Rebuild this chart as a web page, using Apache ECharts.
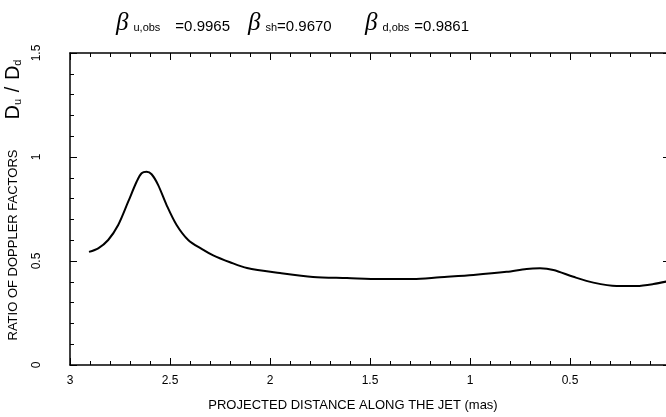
<!DOCTYPE html>
<html><head><meta charset="utf-8">
<script src="https://cdn.jsdelivr.net/npm/echarts@6/dist/echarts.min.js"></script>
<style>html,body{margin:0;padding:0;background:#fff}#c{width:666px;height:417px}</style>
</head><body><div id="c"></div>
<script>
const distance = [2.905,2.859,2.809,2.759,2.709,2.667,2.642,2.617,2.592,2.559,2.517,2.467,2.409,2.342,2.284,2.2,2.115,1.95,1.785,1.615,1.45,1.285,1.15,0.983,0.817,0.717,0.65,0.583,0.483,0.383,0.267,0.167,0.083,0.0];
const ratio =    [0.544,0.561,0.601,0.673,0.785,0.881,0.922,0.929,0.917,0.865,0.769,0.673,0.601,0.558,0.527,0.494,0.466,0.442,0.423,0.418,0.413,0.413,0.422,0.433,0.448,0.462,0.465,0.457,0.424,0.396,0.380,0.380,0.389,0.405];
const xTicks = [3, 2.5, 2, 1.5, 1, 0.5];
const yTicks = [0, 0.5, 1, 1.5];
const betaNames = ['u,obs', 'sh', 'd,obs'];
const betaValues = ['0.9965', '0.9670', '0.9861'];

const FONT = 'Liberation Sans';
const chart = echarts.init(document.getElementById('c'), null, {renderer: 'canvas'});
const titleLefts = [111, 243, 360];
const gaps = ['   ', '', ' '];
const titles = betaNames.map((n, i) => ({
  left: titleLefts[i], top: 6,
  text: '{b|β}{s|' + n + '}' + gaps[i] + '{v|=' + betaValues[i] + '}',
  textStyle: {
    fontWeight: 'normal',
    rich: {
      b: {fontFamily: 'Liberation Serif', fontStyle: 'italic', fontWeight: 'normal', fontSize: 25, color: '#000', verticalAlign: 'bottom'},
      s: {fontFamily: FONT, fontWeight: 'normal', fontSize: 11, color: '#000', verticalAlign: 'bottom', padding: [0, 0, 3, 5]},
      v: {fontFamily: FONT, fontWeight: 'normal', fontSize: 15, color: '#000', verticalAlign: 'bottom', padding: [0, 0, 2, 0]}
    }
  }
}));
const tickStyle = {lineStyle: {color: '#000', width: 1}};
chart.setOption({
  animation: false,
  title: titles,
  grid: {left: 70, right: -4, top: 53, bottom: 52, outerBoundsMode: 'none', containLabel: false},
  xAxis: [{
    type: 'value', min: 0, max: 3, interval: 0.5, inverse: true,
    axisLine: {show: true, onZero: false, lineStyle: {color: '#000', width: 1.5}},
    axisTick: {inside: true, length: 7, ...tickStyle},
    minorTick: {show: true, splitNumber: 5, length: 4, ...tickStyle},
    splitLine: {show: false},
    axisLabel: {color: '#000', fontFamily: FONT, fontSize: 12, margin: 10,
      formatter: v => xTicks.includes(v) ? String(v) : ''},
    name: 'PROJECTED DISTANCE ALONG THE JET (mas)', nameLocation: 'middle', nameGap: 34,
    nameTextStyle: {color: '#000', fontFamily: FONT, fontSize: 13, padding: [0, 34, 0, 0]}
  }, {
    type: 'value', min: 0, max: 3, interval: 0.5, inverse: true, position: 'top',
    axisLine: {show: true, onZero: false, lineStyle: {color: '#000', width: 1.5}},
    axisTick: {inside: true, length: 7, ...tickStyle},
    minorTick: {show: true, splitNumber: 5, length: 4, ...tickStyle},
    splitLine: {show: false}, axisLabel: {show: false}
  }],
  yAxis: [{
    type: 'value', min: 0, max: 1.5, interval: 0.5,
    axisLine: {show: true, onZero: false, lineStyle: {color: '#000', width: 1.5}},
    axisTick: {show: true, inside: true, length: 7, ...tickStyle},
    minorTick: {show: true, splitNumber: 5, length: 4, ...tickStyle},
    splitLine: {show: false},
    axisLabel: {color: '#000', fontFamily: FONT, fontSize: 12, rotate: 90, margin: 27,
      formatter: v => yTicks.includes(v) ? String(v) : ''},
    name: '{a|RATIO OF DOPPLER FACTORS}         {d|D}{s|u}  {d|/}  {d|D}{s|d}',
    nameLocation: 'middle', nameGap: 47,
    nameTextStyle: {color: '#000', padding: [0, 0, 0, 18],
      rich: {
        a: {fontFamily: FONT, fontSize: 13, color: '#000'},
        d: {fontFamily: FONT, fontSize: 20, color: '#000'},
        s: {fontFamily: FONT, fontSize: 11, color: '#000', verticalAlign: 'bottom'}
      }}
  }, {
    type: 'value', min: 0, max: 1.5, interval: 0.5, position: 'right',
    axisLine: {show: false, onZero: false},
    axisTick: {show: true, inside: true, length: 7, ...tickStyle},
    minorTick: {show: false},
    splitLine: {show: false}, axisLabel: {show: false}
  }],
  series: [{
    type: 'line', smooth: 0.3, symbol: 'none',
    lineStyle: {color: '#000', width: 2},
    data: distance.map((d, i) => [d, ratio[i]])
  }]
});
</script></body></html>
